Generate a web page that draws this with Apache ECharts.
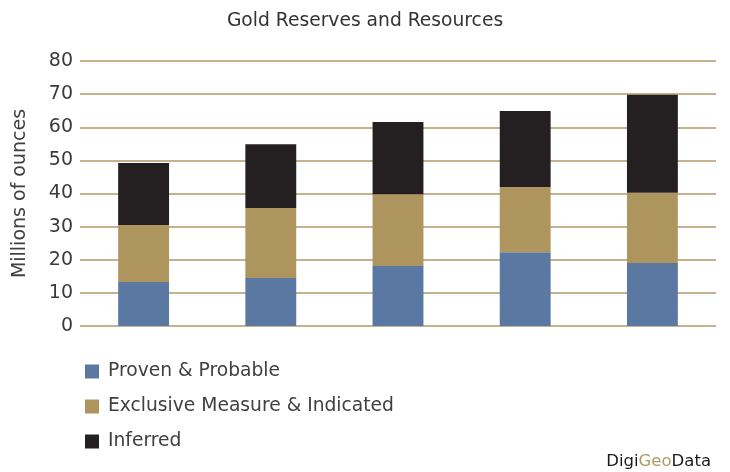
<!DOCTYPE html>
<html>
<head>
<meta charset="utf-8">
<script src="https://cdn.jsdelivr.net/npm/echarts@6/dist/echarts.min.js"></script>
<style>html,body{margin:0;padding:0;background:#fff}#c{width:730px;height:472px}</style>
</head>
<body>
<div id="c"></div>
<script>
const categories = ['1', '2', '3', '4', '5'];
const provenProbable = [13.3, 14.5, 18.1, 22.3, 19.0];
const exclusiveMI = [17.2, 21.1, 21.7, 19.7, 21.2];
const inferred = [18.7, 19.3, 21.8, 22.9, 29.6];
const seriesNames = ['Proven & Probable', 'Exclusive Measure & Indicated', 'Inferred'];
const colors = ['#5b78a3', '#ae955e', '#242021'];

const font = 'DejaVu Sans';
const chart = echarts.init(document.getElementById('c'));
chart.setOption({
  animation: false,
  color: colors,
  title: {
    text: 'Gold Reserves and Resources',
    left: 'center',
    top: 7,
    textStyle: { fontFamily: font, fontSize: 18.7, fontWeight: 'normal', color: '#333' }
  },
  grid: { left: 80, right: 14, top: 61, bottom: 146 },
  legend: {
    orient: 'vertical',
    left: 80,
    top: 357,
    itemWidth: 14,
    itemHeight: 14,
    itemGap: 16,
    icon: 'rect',
    textStyle: { fontFamily: font, fontSize: 18.7, color: '#404040', padding: [0, 0, 0, 4] },
    data: seriesNames
  },
  xAxis: {
    type: 'category',
    data: categories,
    axisLine: { show: false },
    axisTick: { show: false },
    axisLabel: { show: false }
  },
  yAxis: {
    type: 'value',
    min: 0,
    max: 80,
    interval: 10,
    name: 'Millions of ounces',
    nameLocation: 'middle',
    nameGap: 50,
    nameTextStyle: { fontFamily: font, fontSize: 19, color: '#404040' },
    axisLine: { show: false },
    axisTick: { show: false },
    axisLabel: { fontFamily: font, fontSize: 19, color: '#3a3a3a', margin: 7 },
    splitLine: { lineStyle: { color: '#b09a66', width: 1.5 } }
  },
  series: [
    { name: seriesNames[0], type: 'bar', stack: 'a', data: provenProbable, barWidth: '40%' },
    { name: seriesNames[1], type: 'bar', stack: 'a', data: exclusiveMI, barWidth: '40%' },
    { name: seriesNames[2], type: 'bar', stack: 'a', data: inferred, barWidth: '40%' }
  ],
  graphic: [{
    type: 'text',
    right: 19,
    top: 453,
    style: {
      text: '{a|Digi}{b|Geo}{a|Data}',
      rich: {
        a: { fontFamily: font, fontSize: 16.5, fill: '#1a1a1a' },
        b: { fontFamily: font, fontSize: 16.5, fill: '#b09a66' }
      }
    }
  }]
});
</script>
</body>
</html>
